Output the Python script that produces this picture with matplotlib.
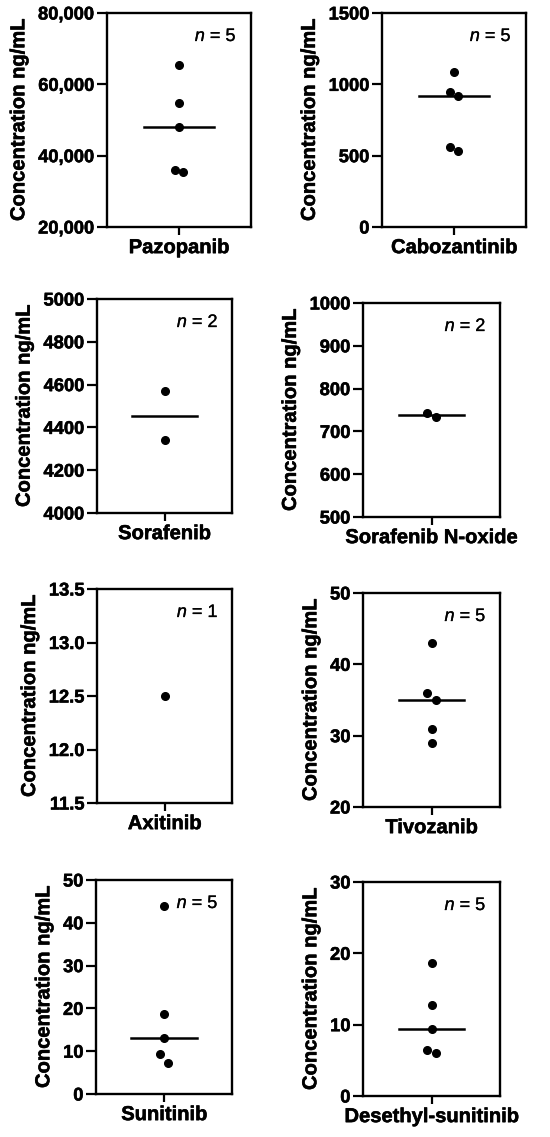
import numpy as np
import matplotlib
matplotlib.use("Agg")
import matplotlib.pyplot as plt
import matplotlib.patheffects as pe
from matplotlib.ticker import FuncFormatter

# ---------------- data ----------------
drugs = ["Pazopanib", "Cabozantinib", "Sorafenib", "Sorafenib N-oxide",
         "Axitinib", "Tivozanib", "Sunitinib", "Desethyl-sunitinib"]

pazopanib = [65300, 54700, 48100, 35900, 35500]
cabozantinib = [1084, 946, 916, 558, 535]
sorafenib = [4569, 4340]
sorafenib_n_oxide = [744, 734]
axitinib = [12.5]
tivozanib = [43, 36, 35, 31, 29]
sunitinib = [44.0, 18.6, 13.1, 9.25, 7.3]
desethyl_sunitinib = [18.7, 12.7, 9.4, 6.5, 6.0]

# side-by-side placement index of overlapping points (-1 left, 0 centre, 1 right)
pazopanib_side = [0, 0, 0, -1, 1]
cabozantinib_side = [0, -1, 1, -1, 1]
sorafenib_side = [0, 0]
sorafenib_n_oxide_side = [-1, 1]
axitinib_side = [0]
tivozanib_side = [0, -1, 1, 0, 0]
sunitinib_side = [0, 0, 0, -1, 1]
desethyl_sunitinib_side = [0, 0, 0, -1, 1]

y_ranges = [(20000, 80000), (0, 1500), (4000, 5000), (500, 1000),
            (11.5, 13.5), (20, 50), (0, 50), (0, 30)]
y_ticks = [[20000, 40000, 60000, 80000], [0, 500, 1000, 1500],
           [4000, 4200, 4400, 4600, 4800, 5000], [500, 600, 700, 800, 900, 1000],
           [11.5, 12.0, 12.5, 13.0, 13.5], [20, 30, 40, 50],
           [0, 10, 20, 30, 40, 50], [0, 10, 20, 30]]
tick_formats = ["comma", "int", "int", "int", "dec1", "int", "int", "int"]

values = [pazopanib, cabozantinib, sorafenib, sorafenib_n_oxide,
          axitinib, tivozanib, sunitinib, desethyl_sunitinib]
sides = [pazopanib_side, cabozantinib_side, sorafenib_side, sorafenib_n_oxide_side,
         axitinib_side, tivozanib_side, sunitinib_side, desethyl_sunitinib_side]

# ---------------- layout (pixels: left, right, top, bottom) ----------------
W, H = 550, 1137
boxes = [(107, 251, 13, 227), (382, 526, 13, 227),
         (97, 232, 299, 513), (363, 500, 303, 517),
         (97, 232, 589, 803), (363, 500, 593, 807),
         (96, 232, 880, 1094), (363, 500, 882, 1096)]

plt.rcParams["font.family"] = ["Liberation Sans", "DejaVu Sans"]
plt.rcParams["mathtext.fontset"] = "custom"
plt.rcParams["mathtext.it"] = "Liberation Sans:italic"
plt.rcParams["mathtext.rm"] = "Liberation Sans"
fig = plt.figure(figsize=(W / 100, H / 100), dpi=100)

heavy = [pe.withStroke(linewidth=0.4, foreground="black")]
light = [pe.withStroke(linewidth=0.2, foreground="black")]

fmt = {
    "comma": FuncFormatter(lambda v, p: f"{int(round(v)):,}"),
    "int": FuncFormatter(lambda v, p: f"{int(round(v))}"),
    "dec1": FuncFormatter(lambda v, p: f"{v:.1f}"),
}

for i, (name, vals, sd) in enumerate(zip(drugs, values, sides)):
    l, r, t, b = boxes[i]
    ax = fig.add_axes([l / W, 1 - b / H, (r - l) / W, (b - t) / H])
    x = np.array(sd) * 0.06
    ax.plot(x, vals, "o", color="black", markersize=5.5, linestyle="none",
            clip_on=False, zorder=3)
    if len(vals) > 1:
        med = np.median(vals)
        ax.plot([-0.48, 0.48], [med, med], color="black", lw=1.8, zorder=2)
    ax.set_xlim(-1, 1)
    ax.set_ylim(*y_ranges[i])
    ax.set_yticks(y_ticks[i])
    ax.yaxis.set_major_formatter(fmt[tick_formats[i]])
    ax.set_xticks([0])
    ax.set_xticklabels([name], fontsize=14.5, fontweight="bold")
    for lab in ax.get_xticklabels():
        lab.set_path_effects(heavy)
    for lab in ax.get_yticklabels():
        lab.set_fontsize(13.2)
        lab.set_fontweight("bold")
        lab.set_path_effects(heavy)
    ax.tick_params(axis="y", direction="out", length=7, width=1.6,
                   color="black", pad=2)
    ax.tick_params(axis="x", direction="out", length=6, width=1.6,
                   color="black", pad=2)
    for s in ax.spines.values():
        s.set_linewidth(1.7)
        s.set_color("black")
    ax.set_ylabel("Concentration ng/mL", fontsize=14.5, fontweight="bold",
                  labelpad=7, path_effects=heavy)
    ax.text(0.9, 0.89, f"$n$ = {len(vals)}", transform=ax.transAxes,
            ha="right", va="center", fontsize=13, path_effects=light)

fig.savefig("out.png", dpi=100)
